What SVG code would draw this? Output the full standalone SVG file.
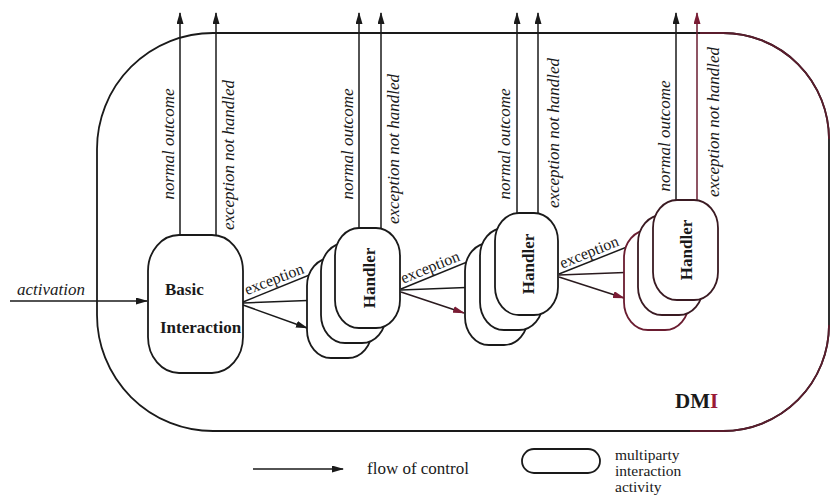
<svg xmlns="http://www.w3.org/2000/svg" width="830" height="495" viewBox="0 0 830 495">
<defs>
<marker id="ah" markerWidth="12" markerHeight="7" refX="11" refY="3.5" orient="auto" markerUnits="userSpaceOnUse"><path d="M0,0 L12,3.5 L0,7 z" fill="#1a1a1a"/></marker>
<marker id="ahr" markerWidth="12" markerHeight="7" refX="11" refY="3.5" orient="auto" markerUnits="userSpaceOnUse"><path d="M0,0 L12,3.5 L0,7 z" fill="#7a1c34"/></marker>
</defs>
<style>
.ln{fill:none;stroke:#1a1a1a;stroke-width:1.5;marker-end:url(#ah)}
.lnr{fill:none;stroke:#2a1a1e;stroke-width:1.5;marker-end:url(#ahr)}
.lnv{fill:none;stroke:#6a1c30;stroke-width:1.5;marker-end:url(#ahr)}
.nd{fill:#fff;stroke:#1a1a1a;stroke-width:1.8}
.ndr{fill:#fff;stroke:#6a1c30;stroke-width:1.8}
text{font-family:'Liberation Serif','Times New Roman','DejaVu Serif',serif;fill:#1a1a1a}
.it{font-style:italic;font-size:17px}
.bd{font-weight:bold;font-size:17px}
.rg{font-size:16px}
.lg{font-size:15.5px}
</style>
<rect width="830" height="495" fill="#fff"/>
<g id="dmi">
<path d="M 213 33 L 723 33 A 106 106 0 0 1 829 139 L 829 325 A 106 106 0 0 1 723 431 L 213 431 A 116 116 0 0 1 97 315 L 97 149 A 116 116 0 0 1 213 33 Z" fill="none" stroke="#1a1a1a" stroke-width="1.8"/>
<path d="M 700 33 L 723 33 A 106 106 0 0 1 829 139 M 829 325 A 106 106 0 0 1 723 431 L 690 431" fill="none" stroke="#5a1c2c" stroke-width="1.8"/>
<text x="675" y="408" font-weight="bold" font-size="21">DM<tspan fill="#9a1a36">I</tspan></text>
</g>
<g id="connectors">
<path class="ln" d="M 10 301 L 147 301"/>
<path class="ln" d="M 243 302 L 334 265"/>
<path class="ln" d="M 243 303 L 321 300"/>
<path class="ln" d="M 243 305 L 307 328"/>
<path class="ln" d="M 401 289 L 494 251"/>
<path class="ln" d="M 401 290 L 479 287"/>
<path class="lnr" d="M 401 292 L 464 313"/>
<path class="ln" d="M 559 274 L 652 237"/>
<path class="lnr" d="M 559 275 L 638 272"/>
<path class="lnr" d="M 559 277 L 624 298"/>
<path class="ln" d="M 180 235 L 180 13"/>
<path class="ln" d="M 216 235 L 216 13"/>
<path class="ln" d="M 359 228 L 359 13"/>
<path class="ln" d="M 381 228 L 381 13"/>
<path class="ln" d="M 517 213 L 517 13"/>
<path class="ln" d="M 538 213 L 538 13"/>
<path class="ln" d="M 676 200 L 676 13"/>
<path class="lnv" d="M 697 200 L 697 13"/>
<text class="it" x="17" y="295">activation</text>
<text class="rg" transform="translate(276,284) rotate(-21)" text-anchor="middle">exception</text>
<text class="rg" transform="translate(432,272) rotate(-22)" text-anchor="middle">exception</text>
<text class="rg" transform="translate(591,257) rotate(-22)" text-anchor="middle">exception</text>
<text class="it" transform="translate(174,144) rotate(-90)" text-anchor="middle">normal outcome</text>
<text class="it" transform="translate(234,155) rotate(-90)" text-anchor="middle">exception not handled</text>
<text class="it" transform="translate(353,144) rotate(-90)" text-anchor="middle">normal outcome</text>
<text class="it" transform="translate(399,149) rotate(-90)" text-anchor="middle">exception not handled</text>
<text class="it" transform="translate(510,144) rotate(-90)" text-anchor="middle">normal outcome</text>
<text class="it" transform="translate(559,133) rotate(-90)" text-anchor="middle">exception not handled</text>
<text class="it" transform="translate(670,136) rotate(-90)" text-anchor="middle">normal outcome</text>
<text class="it" transform="translate(719,122) rotate(-90)" text-anchor="middle">exception not handled</text>
</g>
<g id="basic-interaction">
<rect class="nd" x="148" y="235" width="95" height="138" rx="31" ry="36"/>
<text class="bd" x="165" y="295">Basic</text>
<text class="bd" x="160" y="333">Interaction</text>
</g>
<g id="handler-1">
<rect class="nd" x="307" y="258" width="65" height="100" rx="24" ry="28"/>
<rect class="nd" x="321" y="243" width="65" height="100" rx="24" ry="28"/>
<rect class="nd" x="335" y="228" width="65" height="100" rx="24" ry="28"/>
<text class="bd" transform="translate(375,278) rotate(-90)" text-anchor="middle">Handler</text>
</g>
<g id="handler-2">
<rect class="nd" x="465" y="243" width="63" height="102" rx="24" ry="28"/>
<rect class="nd" x="480" y="228" width="63" height="102" rx="24" ry="28"/>
<rect class="nd" x="495" y="213" width="63" height="102" rx="24" ry="28"/>
<text class="bd" transform="translate(534,264) rotate(-90)" text-anchor="middle">Handler</text>
</g>
<g id="handler-3">
<rect class="ndr" x="624" y="230" width="65" height="100" rx="24" ry="28"/>
<rect class="ndr" x="638" y="215" width="65" height="100" rx="24" ry="28" style="stroke:#3a1a22"/>
<rect class="nd" x="653" y="200" width="65" height="100" rx="24" ry="28" style="stroke:#3a1a22"/>
<text class="bd" transform="translate(692,250) rotate(-90)" text-anchor="middle">Handler</text>
</g>
<g id="legend">
<path class="ln" d="M 253 469 L 343 469"/>
<text class="lg" x="367" y="474" style="font-size:17px">flow of control</text>
<rect x="522" y="449" width="78" height="24" rx="12" ry="12" fill="#fff" stroke="#1a1a1a" stroke-width="1.8"/>
<text class="lg" x="615" y="460">multiparty</text>
<text class="lg" x="615" y="476">interaction</text>
<text class="lg" x="615" y="492">activity</text>
</g>
</svg>
